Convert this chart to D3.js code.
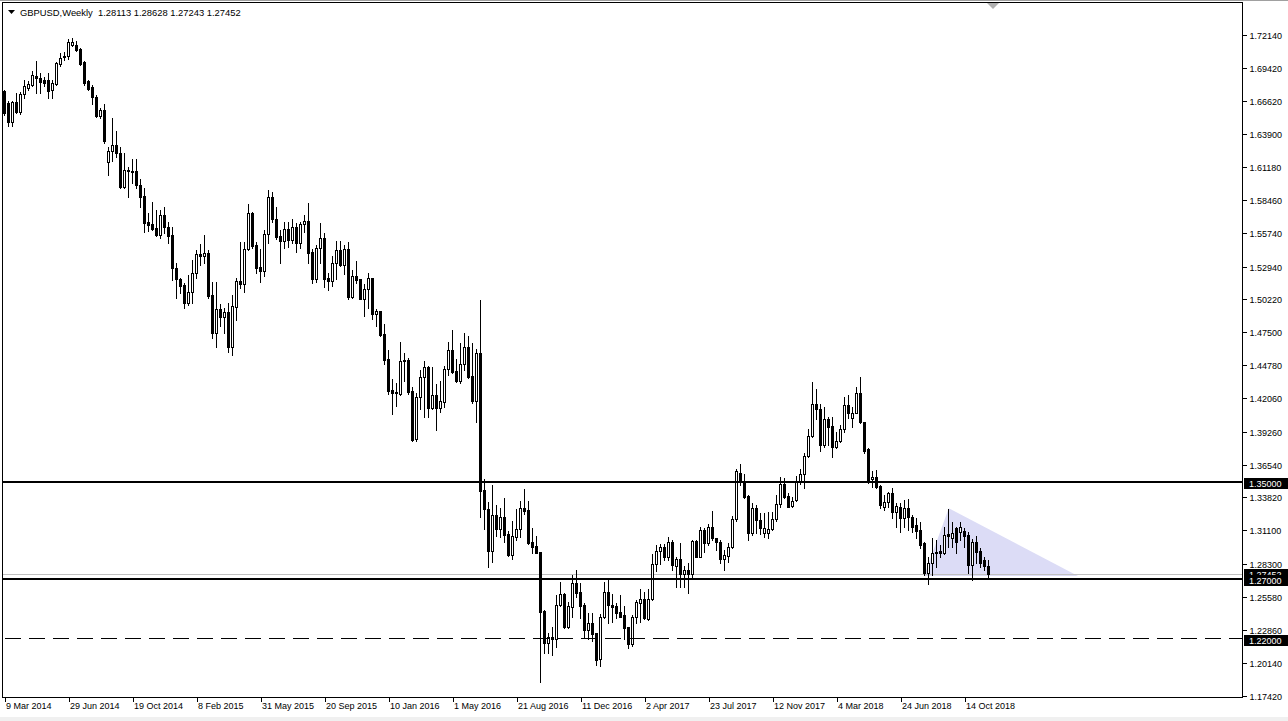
<!DOCTYPE html>
<html><head><meta charset="utf-8">
<script src="https://cdn.jsdelivr.net/npm/d3@7"></script>
<style>
html,body{margin:0;padding:0;background:#fff;}
svg{display:block;font-family:"Liberation Sans",Arial,sans-serif;}
</style></head><body>
<svg id="c" width="1288" height="721"></svg>
<script>
// ---------------- data ----------------
const symbolTitle = "GBPUSD,Weekly";
const lastQuote = ["1.28113", "1.28628", "1.27243", "1.27452"];

const open = [
1.6745,1.6649,1.6488,1.6653,1.6571,1.6726,1.6773,1.6800,1.6875,1.6855,
1.6841,1.6836,1.6753,1.6806,1.6971,1.7026,1.7034,1.7131,1.7125,1.7096,
1.6985,1.6827,1.6781,1.6700,1.6544,1.6593,1.6160,1.6250,1.6300,1.6232,
1.5955,1.6094,1.6080,1.6085,1.5970,1.5878,1.5663,1.5647,1.5616,1.5556,
1.5721,1.5624,1.5556,1.5280,1.5189,1.5142,1.4990,1.5081,1.5238,1.5398,
1.5384,1.5409,1.5059,1.4747,1.4940,1.4879,1.4915,1.4631,1.4962,1.5175,
1.5147,1.5440,1.5735,1.5473,1.5288,1.5260,1.5564,1.5868,1.5686,1.5547,
1.5508,1.5603,1.5514,1.5619,1.5487,1.5644,1.5669,1.5415,1.5194,1.5446,
1.5528,1.5202,1.5177,1.5321,1.5431,1.5310,1.5437,1.5045,1.5216,1.5194,
1.5028,1.5108,1.5200,1.4904,1.4926,1.4736,1.4529,1.4272,1.4258,1.4239,
1.4512,1.4520,1.4264,1.3864,1.4212,1.4377,1.4465,1.4126,1.4228,1.4126,
1.4175,1.4444,1.4601,1.4430,1.4347,1.4488,1.4626,1.4388,1.4184,1.4576,
1.3444,1.3287,1.2941,1.3235,1.3124,1.3218,1.3080,1.2906,1.3058,1.3124,
1.3293,1.3279,1.3011,1.2978,1.2933,1.2442,1.2180,1.2225,1.2208,1.2492,
1.2581,1.2312,1.2478,1.2672,1.2597,1.2492,1.2285,1.2341,1.2263,1.2042,
1.2390,1.2597,1.2492,1.2484,1.2432,1.2407,1.2312,1.2169,1.2390,1.2511,
1.2542,1.2374,1.2542,1.2829,1.2939,1.2975,1.2887,1.3014,1.2815,1.2870,
1.2746,1.2782,1.2746,1.3024,1.2892,1.3113,1.3008,1.3141,1.3049,1.3011,
1.2870,1.2900,1.2970,1.3204,1.3587,1.3508,1.3394,1.3085,1.3298,1.3196,
1.3085,1.3085,1.3118,1.3201,1.3326,1.3494,1.3394,1.3312,1.3361,1.3508,
1.3574,1.3728,1.3891,1.4156,1.4112,1.3817,1.4030,1.3974,1.3798,1.3852,
1.3947,1.4148,1.4038,1.4084,1.4245,1.4005,1.3784,1.3533,1.3554,1.3477,
1.3306,1.3347,1.3417,1.3265,1.3300,1.3210,1.3293,1.3223,1.3155,1.3113,
1.3008,1.2755,1.2837,1.2920,1.2941,1.2925,1.3080,1.3044,1.3127,1.3099,
1.3105,1.3072,1.2823,1.3016,1.2941,1.2864,1.28113
];
const high = [
1.6759,1.6668,1.6668,1.6731,1.6742,1.6841,1.6827,1.6910,1.6999,1.6897,
1.6866,1.6897,1.6841,1.6990,1.7062,1.7067,1.7178,1.7187,1.7159,1.7104,
1.6993,1.6841,1.6800,1.6717,1.6610,1.6640,1.6280,1.6525,1.6420,1.6287,
1.6232,1.6121,1.6182,1.6182,1.6017,1.5942,1.5735,1.5831,1.5763,1.5763,
1.5785,1.5666,1.5624,1.5321,1.5197,1.5156,1.5224,1.5349,1.5431,1.5481,
1.5556,1.5431,1.5164,1.5164,1.4984,1.4949,1.4990,1.5059,1.5197,1.5500,
1.5500,1.5810,1.5746,1.5500,1.5437,1.5597,1.5928,1.5909,1.5785,1.5597,
1.5666,1.5666,1.5686,1.5652,1.5666,1.5721,1.5818,1.5437,1.5473,1.5652,
1.5570,1.5238,1.5382,1.5506,1.5506,1.5473,1.5495,1.5266,1.5340,1.5194,
1.5147,1.5241,1.5200,1.4940,1.4926,1.4819,1.4603,1.4361,1.4333,1.4672,
1.4581,1.4534,1.4295,1.4245,1.4438,1.4515,1.4471,1.4463,1.4322,1.4347,
1.4471,1.4672,1.4769,1.4526,1.4659,1.4744,1.4721,1.4659,1.4612,1.5017,
1.3535,1.3342,1.3486,1.3320,1.3298,1.3375,1.3107,1.3188,1.3284,1.3351,
1.3452,1.3353,1.3127,1.3063,1.2933,1.2450,1.2263,1.2312,1.2575,1.2685,
1.2589,1.2519,1.2740,1.2782,1.2672,1.2506,1.2423,1.2423,1.2263,1.2418,
1.2685,1.2705,1.2581,1.2511,1.2575,1.2484,1.2312,1.2409,1.2533,1.2622,
1.2597,1.2625,1.2914,1.2989,1.2997,1.2997,1.3053,1.3030,1.2887,1.3003,
1.2815,1.2837,1.3030,1.3030,1.3135,1.3127,1.3160,1.3273,1.3049,1.3030,
1.2947,1.3008,1.3231,1.3620,1.3657,1.3577,1.3403,1.3339,1.3320,1.3251,
1.3251,1.3264,1.3264,1.3403,1.3554,1.3541,1.3422,1.3389,1.3560,1.3618,
1.3748,1.3949,1.4341,1.4280,1.4154,1.4134,1.4051,1.4051,1.3922,1.3982,
1.4217,1.4231,1.4134,1.4299,1.4382,1.4010,1.3792,1.3604,1.3610,1.3486,
1.3403,1.3430,1.3458,1.3334,1.3334,1.3361,1.3367,1.3237,1.3210,1.3182,
1.3016,1.2892,1.3044,1.3030,1.2989,1.3140,1.3284,1.3182,1.3140,1.3182,
1.3127,1.3099,1.3036,1.3063,1.2961,1.2892,1.28628
];
const low = [
1.6552,1.6455,1.6455,1.6566,1.6560,1.6690,1.6759,1.6786,1.6731,1.6731,
1.6792,1.6690,1.6690,1.6800,1.6952,1.7007,1.7013,1.7123,1.7076,1.6960,
1.6800,1.6759,1.6643,1.6533,1.6524,1.6320,1.6050,1.6170,1.6200,1.5942,
1.5942,1.5873,1.5989,1.5942,1.5785,1.5583,1.5589,1.5597,1.5547,1.5528,
1.5570,1.5487,1.5183,1.5031,1.5073,1.4949,1.4975,1.4990,1.5197,1.5307,
1.5326,1.5031,1.4700,1.4631,1.4802,1.4742,1.4589,1.4562,1.4852,1.5114,
1.5081,1.5431,1.5450,1.5238,1.5169,1.5219,1.5487,1.5666,1.5522,1.5326,
1.5446,1.5459,1.5487,1.5417,1.5450,1.5583,1.5326,1.5161,1.5169,1.5326,
1.5128,1.5100,1.5133,1.5194,1.5299,1.5235,1.5023,1.5037,1.5156,1.5023,
1.4885,1.4951,1.4862,1.4805,1.4719,1.4488,1.4239,1.4074,1.4140,1.4231,
1.4349,1.4237,1.3850,1.3846,1.4115,1.4051,1.4051,1.4115,1.3941,1.4090,
1.4129,1.4396,1.4410,1.4339,1.4333,1.4438,1.4374,1.4167,1.4010,1.3223,
1.3119,1.2804,1.2851,1.3066,1.3058,1.3016,1.2900,1.2870,1.3030,1.3058,
1.3245,1.2997,1.2920,1.2920,1.1857,1.2092,1.2092,1.2078,1.2147,1.2484,
1.2299,1.2299,1.2390,1.2561,1.2387,1.2229,1.2208,1.2196,1.1995,1.1989,
1.2382,1.2346,1.2354,1.2382,1.2390,1.2211,1.2133,1.2153,1.2341,1.2354,
1.2374,1.2368,1.2533,1.2776,1.2831,1.2865,1.2865,1.2782,1.2638,1.2638,
1.2638,1.2589,1.2726,1.2887,1.2887,1.2933,1.2989,1.3030,1.2947,1.2842,
1.2782,1.2845,1.2961,1.3190,1.3486,1.3375,1.3030,1.3072,1.3091,1.3078,
1.3058,1.3044,1.3113,1.3190,1.3306,1.3375,1.3301,1.3300,1.3350,1.3494,
1.3458,1.3715,1.3885,1.4030,1.3767,1.3803,1.3817,1.3715,1.3789,1.3844,
1.3927,1.4038,1.3963,1.4079,1.3996,1.3748,1.3502,1.3472,1.3458,1.3293,
1.3279,1.3306,1.3210,1.3140,1.3099,1.3140,1.3113,1.3099,1.3044,1.2961,
1.2740,1.2666,1.2740,1.2809,1.2892,1.2914,1.2975,1.2975,1.2920,1.3030,
1.2975,1.2755,1.2699,1.2837,1.2809,1.2781,1.27243
];
const close = [
1.6566,1.6488,1.6653,1.6571,1.6726,1.6786,1.6808,1.6883,1.6855,1.6819,
1.6814,1.6750,1.6814,1.6980,1.7021,1.7040,1.7150,1.7154,1.7084,1.6971,
1.6814,1.6767,1.6700,1.6544,1.6593,1.6330,1.6250,1.6300,1.6235,1.5955,
1.6094,1.6085,1.6085,1.5970,1.5873,1.5657,1.5638,1.5608,1.5556,1.5721,
1.5624,1.5550,1.5280,1.5189,1.5136,1.4990,1.5084,1.5238,1.5398,1.5382,
1.5406,1.5053,1.4747,1.4940,1.4879,1.4915,1.4631,1.4968,1.5175,1.5147,
1.5440,1.5735,1.5464,1.5285,1.5260,1.5564,1.5868,1.5686,1.5541,1.5508,
1.5603,1.5514,1.5619,1.5487,1.5644,1.5669,1.5409,1.5194,1.5446,1.5528,
1.5194,1.5177,1.5321,1.5431,1.5310,1.5437,1.5045,1.5216,1.5183,1.5028,
1.5108,1.5197,1.4904,1.4926,1.4728,1.4521,1.4264,1.4250,1.4245,1.4512,
1.4520,1.4258,1.3858,1.4212,1.4377,1.4460,1.4126,1.4228,1.4126,1.4181,
1.4446,1.4601,1.4424,1.4347,1.4488,1.4626,1.4382,1.4184,1.4576,1.3438,
1.3284,1.2941,1.3235,1.3124,1.3218,1.3074,1.2906,1.3064,1.3124,1.3293,
1.3273,1.3003,1.2975,1.2925,1.2436,1.2180,1.2225,1.2208,1.2492,1.2581,
1.2312,1.2484,1.2672,1.2594,1.2484,1.2285,1.2341,1.2252,1.2036,1.2395,
1.2597,1.2492,1.2478,1.2428,1.2395,1.2304,1.2169,1.2395,1.2519,1.2542,
1.2382,1.2542,1.2829,1.2939,1.2975,1.2887,1.3014,1.2821,1.2870,1.2746,
1.2782,1.2746,1.3024,1.2892,1.3113,1.3008,1.3141,1.3044,1.3011,1.2870,
1.2906,1.2970,1.3204,1.3601,1.3508,1.3388,1.3085,1.3298,1.3196,1.3132,
1.3127,1.3121,1.3201,1.3326,1.3494,1.3388,1.3306,1.3356,1.3508,1.3574,
1.3728,1.3891,1.4156,1.4112,1.3817,1.4030,1.3963,1.3798,1.3852,1.3947,
1.4148,1.4084,1.4084,1.4245,1.4005,1.3770,1.3519,1.3554,1.3472,1.3320,
1.3347,1.3417,1.3265,1.3314,1.3210,1.3293,1.3223,1.3141,1.3107,1.2989,
1.2755,1.2837,1.2925,1.2933,1.2925,1.3072,1.3066,1.3091,1.3016,1.3141,
1.3063,1.2823,1.3016,1.2933,1.2837,1.2817,1.27452
];

const dateTickIndex = [0,16,32,48,64,80,96,112,128,144,160,176,192,208,224,240];
const dateTickLabels = ["9 Mar 2014","29 Jun 2014","19 Oct 2014","8 Feb 2015","31 May 2015","20 Sep 2015",
  "10 Jan 2016","1 May 2016","21 Aug 2016","11 Dec 2016","2 Apr 2017","23 Jul 2017","12 Nov 2017",
  "4 Mar 2018","24 Jun 2018","14 Oct 2018"];
const priceTicks = [1.72140,1.69420,1.66620,1.63900,1.61180,1.58460,1.55740,1.52940,1.50220,1.47500,
  1.44780,1.42060,1.39260,1.36540,1.33820,1.31100,1.28300,1.25580,1.22860,1.20140,1.17420];
const levelPrices = [1.35, 1.27, 1.22];
const bidPrice = 1.27452;
const triangleBar = [230, 236.2, 268.5];
const trianglePrice = [1.2732, 1.3293, 1.2732];

// ---------------- drawing ----------------
const svg = d3.select('#c');
const W = 1288, H = 721;
const P = {l: 3, t: 3, r: 1242, b: 697};
const N = Math.min(open.length, high.length, low.length, close.length);

const xs = d3.scaleLinear().domain([0, 246]).range([4, 988]);
const ys = d3.scaleLinear().domain([1.1742, 1.7214]).range([695.5, 34.7]);
const R = v => Math.round(v);

svg.append('rect').attr('width', W).attr('height', H).attr('fill', '#fff');
svg.append('rect').attr('x', 0).attr('y', 717).attr('width', W).attr('height', 4).attr('fill', '#f0f0f0');
svg.append('line').attr('x1', 0).attr('x2', W).attr('y1', 0.5).attr('y2', 0.5)
  .attr('stroke', '#a0a0a0').attr('shape-rendering', 'crispEdges');

svg.append('defs').append('clipPath').attr('id', 'clip')
  .append('rect').attr('x', P.l).attr('y', P.t).attr('width', P.r - P.l).attr('height', P.b - P.t);
const plot = svg.append('g').attr('clip-path', 'url(#clip)').attr('shape-rendering', 'crispEdges');

// triangle object
plot.append('polygon')
  .attr('points', triangleBar.map((b, i) => [xs(b), ys(trianglePrice[i])].join(',')).join(' '))
  .attr('fill', '#dcdcf6').attr('shape-rendering', 'auto');

// bid line
plot.append('line').attr('x1', P.l).attr('x2', P.r)
  .attr('y1', R(ys(bidPrice)) + 0.5).attr('y2', R(ys(bidPrice)) + 0.5)
  .attr('stroke', '#c0c0c0');

const bars = d3.range(N).map(i => ({i, o: open[i], h: high[i], l: low[i], c: close[i]}));

plot.append('g').selectAll('line').data(bars).join('line')
  .attr('x1', d => R(xs(d.i)) + 0.5).attr('x2', d => R(xs(d.i)) + 0.5)
  .attr('y1', d => R(ys(d.h))).attr('y2', d => R(ys(d.l)) + 1)
  .attr('stroke', '#000').attr('stroke-width', 1);

const bodyTop = d => R(ys(Math.max(d.o, d.c)));
const bodyBot = d => R(ys(Math.min(d.o, d.c)));

plot.append('g').selectAll('rect').data(bars.filter(d => d.c < d.o)).join('rect')
  .attr('x', d => R(xs(d.i)) - 1).attr('width', 3)
  .attr('y', d => bodyTop(d)).attr('height', d => Math.max(1, bodyBot(d) - bodyTop(d) + 1))
  .attr('fill', '#000');

plot.append('g').selectAll('rect').data(bars.filter(d => d.c >= d.o)).join('rect')
  .attr('x', d => R(xs(d.i)) - 0.5).attr('width', 2)
  .attr('y', d => bodyTop(d) + 0.5).attr('height', d => Math.max(1, bodyBot(d) - bodyTop(d)))
  .attr('fill', '#fff').attr('stroke', '#000').attr('stroke-width', 1);

// horizontal levels
plot.append('g').selectAll('line').data(levelPrices).join('line')
  .attr('x1', P.l).attr('x2', P.r)
  .attr('y1', (d, i) => i < 2 ? R(ys(d)) - 1 : R(ys(d)) - 1.5)
  .attr('y2', (d, i) => i < 2 ? R(ys(d)) - 1 : R(ys(d)) - 1.5)
  .attr('stroke', '#000')
  .attr('stroke-width', (d, i) => i < 2 ? 2 : 1)
  .attr('stroke-dasharray', (d, i) => i < 2 ? null : '16,8')
  .attr('stroke-dashoffset', 22);

// frame
svg.append('rect').attr('x', 2.5).attr('y', 2.5).attr('width', P.r - 2.5 + 0.5).attr('height', P.b - 2.5 + 0.5)
  .attr('fill', 'none').attr('stroke', '#000').attr('shape-rendering', 'crispEdges');

// bottom axis
const xAxis = d3.axisBottom(xs).tickValues(dateTickIndex)
  .tickFormat((d, i) => dateTickLabels[i]).tickSize(4).tickSizeOuter(0);
const gx = svg.append('g').attr('transform', `translate(0.5,${P.b + 1})`).call(xAxis);
gx.select('.domain').remove();
gx.selectAll('line').attr('stroke', '#000').attr('shape-rendering', 'crispEdges');
gx.selectAll('text').attr('text-anchor', 'start').attr('x', 1).attr('y', 5)
  .attr('fill', '#000').style('font-size', '9px').style('font-family', '"Liberation Sans", Arial, sans-serif');

// right axis
const yAxis = d3.axisRight(ys).tickValues(priceTicks).tickFormat(d3.format('.5f')).tickSize(4).tickSizeOuter(0);
const gy = svg.append('g').attr('transform', `translate(${P.r + 0.5},0)`).call(yAxis);
gy.select('.domain').remove();
gy.selectAll('.tick').attr('transform', d => `translate(0,${R(ys(d)) + 0.5})`);
gy.selectAll('line').attr('stroke', '#000').attr('shape-rendering', 'crispEdges');
gy.selectAll('text').attr('x', 7).attr('dy', '0.35em')
  .attr('fill', '#000').style('font-size', '9px').style('font-family', '"Liberation Sans", Arial, sans-serif');

// price labels (bid first, then levels on top)
const labelG = svg.append('g').attr('shape-rendering', 'crispEdges');
function priceLabel(v, txt) {
  const yy = R(ys(v));
  labelG.append('rect').attr('x', P.r + 2).attr('y', yy - 5).attr('width', W - P.r - 2).attr('height', 11).attr('fill', '#000');
  labelG.append('text').attr('x', P.r + 7).attr('y', yy + 3.5).attr('fill', '#fff')
    .style('font-size', '9px').text(txt);
}
priceLabel(bidPrice, bidPrice.toFixed(5));
levelPrices.forEach(v => priceLabel(v, v.toFixed(5)));

// header
svg.append('polygon').attr('points', '8,10 15,10 11.5,14').attr('fill', '#000');
svg.append('text').attr('x', 20).attr('y', 16).attr('fill', '#000')
  .style('font-size', '9.4px').style('white-space', 'pre')
  .text(symbolTitle + '  ' + lastQuote.join(' '));

// chart shift marker
svg.append('polygon').attr('points', '987,3 999,3 993,9').attr('fill', '#b0b0b0');
</script>
</body></html>
